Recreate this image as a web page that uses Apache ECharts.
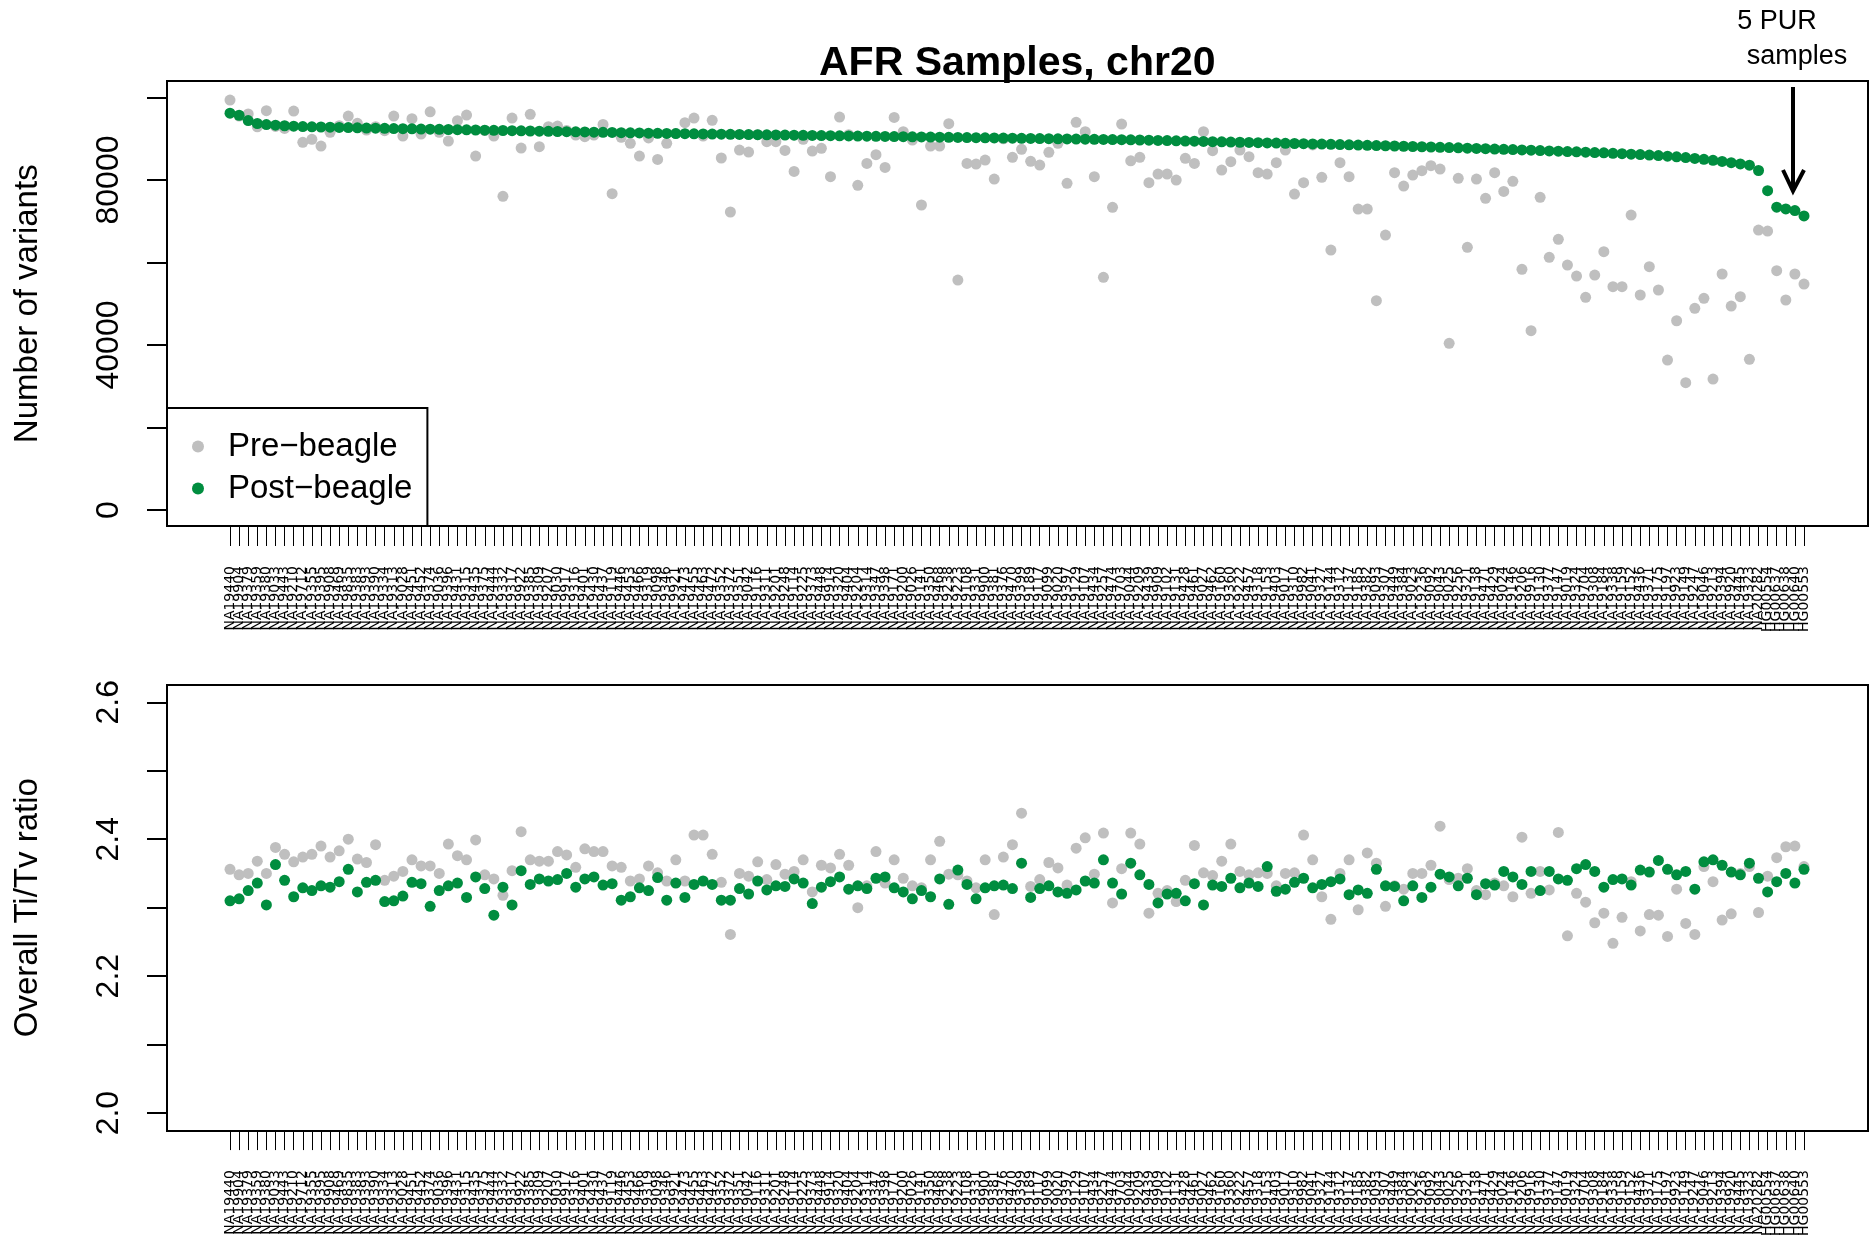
<!DOCTYPE html>
<html>
<head>
<meta charset="utf-8">
<title>AFR Samples, chr20</title>
<script src="https://cdn.jsdelivr.net/npm/echarts@6/dist/echarts.min.js"></script>
<style>
  html, body { margin: 0; padding: 0; background: #fff; }
  #chart { width: 1875px; height: 1239px; }
</style>
</head>
<body>
<div id="chart"></div>
<script>
// sample order as plotted (sorted by post-beagle count); names estimated, labels overlap in the original
var samples = [
  'NA19440','NA19904','NA19379','NA19359','NA19380','NA19033','NA19443','NA19210','NA19712','NA19355',
  'NA19395','NA19908','NA19469','NA19835','NA19383','NA19393','NA19390','NA19334','NA19313','NA19028',
  'NA19451','NA19452','NA19374','NA19036','NA19396','NA19431','NA19315','NA19435','NA19375','NA19444',
  'NA19332','NA19317','NA19922','NA19385','NA19309','NA19207','NA19030','NA19917','NA19316','NA19401',
  'NA19430','NA19437','NA19119','NA19446','NA19453','NA19466','NA19319','NA19098','NA19346','NA19921',
  'NA19473','NA19455','NA19463','NA19472','NA19352','NA19372','NA19351','NA19042','NA19116','NA19311',
  'NA19201','NA19248','NA19114','NA19225','NA19373','NA19448','NA19914','NA19320','NA19404','NA19204',
  'NA19314','NA19347','NA19398','NA19171','NA19200','NA19026','NA19141','NA19350','NA19468','NA19238',
  'NA19223','NA19108','NA19331','NA19900','NA19381','NA19376','NA19470','NA19399','NA19189','NA19117',
  'NA19099','NA19020','NA19397','NA19129','NA19107','NA19434','NA19257','NA19474','NA19703','NA19044',
  'NA19209','NA19439','NA19909','NA19102','NA19131','NA19428','NA19461','NA19027','NA19462','NA19160',
  'NA19360','NA19222','NA19457','NA19318','NA19153','NA19403','NA19017','NA19310','NA19982','NA19041',
  'NA19327','NA19144','NA19312','NA19137','NA19185','NA19382','NA19093','NA19307','NA19449','NA19384',
  'NA19023','NA19236','NA19092','NA19043','NA19025','NA19256','NA19321','NA19138','NA19471','NA19429',
  'NA19024','NA19146','NA19206','NA19916','NA19130','NA19377','NA19147','NA19019','NA19324','NA19704',
  'NA19308','NA19184','NA19338','NA19159','NA19152','NA19436','NA19371','NA19175','NA19197','NA19923',
  'NA19149','NA19247','NA19046','NA19213','NA19394','NA19920','NA19445','NA19323','NA20282','HG00554',
  'HG00637','HG00638','HG00640','HG00553'
];

// number of variants, pre-beagle
var preCount = [
  99380, 95500, 96000, 92900, 96800, 93000, 92500, 96700, 89130, 89850,
  88230, 91550, 93160, 95500, 93730, 92110, 92920, 91950, 95500, 90660,
  94860, 91150, 96530, 91550, 89450, 94380, 95750, 85810, 92000, 90660,
  76040, 95020, 87750, 95910, 88070, 92920, 93080, 92000, 90900, 90500,
  90900, 93480, 76690, 90340, 88880, 85810, 90200, 85000, 88880, 91300,
  93890, 95020, 90660, 94460, 85330, 72240, 87260, 86780, 91000, 89290,
  89290, 87180, 82090, 89850, 87020, 87670, 80800, 95260, 91000, 78700,
  84030, 86130, 83060, 95180, 91710, 89690, 73940, 88230, 88230, 93640,
  55750, 84030, 83870, 84840, 80230, 90000, 85490, 87430, 84520, 83630,
  86700, 88880, 79190, 93970, 91710, 80800, 56400, 73370, 93560, 84650,
  85490, 79350, 81450, 81450, 79990, 85250, 84030, 91710, 87100, 82420,
  84440, 87260, 85650, 81770, 81450, 84200, 87260, 76600, 79350, 88500,
  80640, 63020, 84200, 80800, 72960, 72960, 50740, 66660, 81770, 78540,
  81200, 82250, 83460, 82660, 40400, 80400, 63670, 80230, 75550, 81770,
  77240, 79670, 58340, 43460, 75790, 61250, 65620, 59390, 56720, 51560,
  56960, 62620, 54140, 54140, 71510, 52120, 58990, 53330, 36360, 45880,
  30870, 48880, 51310, 31750, 57210, 49450, 51720, 36520, 67870, 67630,
  58010, 50910, 57210, 54780
];

// number of variants, post-beagle
var postCount = [
  96200, 95700, 94400, 93700, 93450, 93300, 93150, 93050, 92950, 92900,
  92850, 92800, 92750, 92700, 92650, 92600, 92560, 92520, 92480, 92440,
  92400, 92360, 92320, 92280, 92240, 92200, 92160, 92120, 92080, 92040,
  92000, 91960, 91920, 91880, 91840, 91800, 91760, 91720, 91680, 91640,
  91600, 91560, 91520, 91480, 91440, 91400, 91360, 91320, 91280, 91250,
  91220, 91190, 91160, 91130, 91100, 91070, 91040, 91010, 90980, 90950,
  90920, 90890, 90860, 90830, 90800, 90770, 90740, 90710, 90680, 90650,
  90620, 90590, 90560, 90530, 90500, 90470, 90440, 90410, 90380, 90350,
  90320, 90290, 90260, 90230, 90200, 90170, 90140, 90110, 90080, 90050,
  90020, 89990, 89960, 89930, 89900, 89870, 89840, 89810, 89780, 89750,
  89700, 89650, 89600, 89550, 89500, 89450, 89400, 89350, 89300, 89250,
  89200, 89150, 89100, 89050, 89000, 88950, 88900, 88850, 88800, 88750,
  88700, 88650, 88600, 88540, 88480, 88420, 88360, 88300, 88240, 88180,
  88120, 88060, 88000, 87930, 87860, 87790, 87720, 87650, 87580, 87510,
  87440, 87370, 87300, 87220, 87140, 87060, 86980, 86900, 86820, 86740,
  86660, 86580, 86480, 86380, 86270, 86160, 86040, 85920, 85780, 85620,
  85440, 85240, 85020, 84780, 84500, 84200, 83900, 83600, 82300, 77400,
  73400, 73000, 72600, 71300
];

// overall Ti/Tv ratio, pre-beagle
var preTiTv = [
  2.356, 2.348, 2.350, 2.368, 2.350, 2.388, 2.378, 2.367, 2.374, 2.378,
  2.390, 2.374, 2.383, 2.400, 2.371, 2.366, 2.392, 2.340, 2.346, 2.353,
  2.370, 2.361, 2.361, 2.350, 2.393, 2.376, 2.370, 2.399, 2.348, 2.342,
  2.318, 2.354, 2.411, 2.370, 2.368, 2.368, 2.382, 2.377, 2.359, 2.386,
  2.382, 2.382, 2.361, 2.359, 2.339, 2.342, 2.361, 2.351, 2.339, 2.370,
  2.339, 2.406, 2.406, 2.378, 2.337, 2.261, 2.350, 2.346, 2.367, 2.341,
  2.363, 2.349, 2.353, 2.370, 2.323, 2.362, 2.358, 2.378, 2.362, 2.300,
  2.332, 2.382, 2.336, 2.370, 2.343, 2.332, 2.329, 2.370, 2.397, 2.349,
  2.348, 2.339, 2.329, 2.370, 2.290, 2.374, 2.392, 2.438, 2.331, 2.341,
  2.366, 2.358, 2.333, 2.387, 2.402, 2.349, 2.409, 2.307, 2.357, 2.409,
  2.393, 2.292, 2.321, 2.325, 2.309, 2.340, 2.391, 2.351, 2.347, 2.368,
  2.393, 2.353, 2.348, 2.351, 2.350, 2.332, 2.350, 2.351, 2.406, 2.370,
  2.316, 2.283, 2.350, 2.370, 2.297, 2.380, 2.365, 2.302, 2.332, 2.327,
  2.350, 2.350, 2.362, 2.419, 2.341, 2.343, 2.357, 2.325, 2.319, 2.336,
  2.332, 2.316, 2.403, 2.321, 2.353, 2.326, 2.410, 2.259, 2.321, 2.308,
  2.278, 2.292, 2.248, 2.286, 2.338, 2.266, 2.290, 2.289, 2.258, 2.327,
  2.277, 2.261, 2.360, 2.338, 2.282, 2.291, 2.350, 2.360, 2.293, 2.346,
  2.373, 2.389, 2.390, 2.360
];

// overall Ti/Tv ratio, post-beagle
var postTiTv = [
  2.310, 2.313, 2.325, 2.336, 2.304, 2.363, 2.340, 2.316, 2.329, 2.325,
  2.332, 2.330, 2.338, 2.356, 2.323, 2.337, 2.340, 2.309, 2.310, 2.317,
  2.337, 2.335, 2.302, 2.325, 2.332, 2.336, 2.315, 2.345, 2.328, 2.289,
  2.330, 2.304, 2.354, 2.334, 2.342, 2.339, 2.341, 2.350, 2.330, 2.342,
  2.345, 2.333, 2.335, 2.311, 2.316, 2.329, 2.325, 2.344, 2.311, 2.336,
  2.315, 2.334, 2.339, 2.334, 2.311, 2.311, 2.328, 2.320, 2.339, 2.326,
  2.332, 2.331, 2.342, 2.336, 2.306, 2.330, 2.338, 2.345, 2.327, 2.332,
  2.328, 2.343, 2.345, 2.329, 2.323, 2.313, 2.325, 2.316, 2.342, 2.305,
  2.355, 2.334, 2.313, 2.329, 2.332, 2.333, 2.328, 2.365, 2.315, 2.328,
  2.332, 2.323, 2.321, 2.326, 2.339, 2.336, 2.370, 2.336, 2.320, 2.365,
  2.348, 2.334, 2.307, 2.320, 2.321, 2.310, 2.335, 2.304, 2.333, 2.331,
  2.343, 2.329, 2.336, 2.331, 2.360, 2.324, 2.327, 2.337, 2.343, 2.329,
  2.334, 2.338, 2.342, 2.319, 2.326, 2.321, 2.356, 2.332, 2.331, 2.310,
  2.332, 2.315, 2.330, 2.349, 2.345, 2.332, 2.343, 2.319, 2.335, 2.333,
  2.353, 2.345, 2.334, 2.353, 2.325, 2.353, 2.342, 2.340, 2.357, 2.363,
  2.353, 2.330, 2.341, 2.342, 2.333, 2.355, 2.352, 2.369, 2.356, 2.348,
  2.353, 2.327, 2.367, 2.370, 2.362, 2.352, 2.348, 2.365, 2.343, 2.323,
  2.338, 2.350, 2.336, 2.356
];

// y tick labels that R printed (the others were dropped for space)
var countTickLabels = [0, 40000, 80000];
var titvTickLabels = ['2.0', '2.2', '2.4', '2.6'];

var preName = 'Pre\u2212beagle';
var postName = 'Post\u2212beagle';
var grayCol = '#bfbfbf';
var greenCol = '#008d3f';
var font = 'Liberation Sans, Arial, Helvetica, sans-serif';

function frameGrid(top, height) {
    return {left: 167, top: top, width: 1701, height: height, show: true,
        borderColor: '#000', borderWidth: 2, backgroundColor: 'transparent'};
}

function sampleAxis(gridIndex, offset) {
    return {
        type: 'category', gridIndex: gridIndex, data: samples, boundaryGap: false, offset: offset,
        axisLine: {show: false, onZero: false},
        axisTick: {show: true, interval: 0, length: 20, lineStyle: {color: '#000', width: 1}},
        axisLabel: {interval: 0, rotate: 90, margin: 40, fontSize: 14, color: '#000',
            fontFamily: 'DejaVu Sans, sans-serif'},
        splitLine: {show: false}
    };
}

function dots(name, data, color, axisIndex) {
    return {
        name: name, type: 'scatter', data: data, xAxisIndex: axisIndex, yAxisIndex: axisIndex,
        symbol: 'circle', symbolSize: 11, clip: false,
        itemStyle: {color: color, opacity: 1},
        emphasis: {disabled: true}
    };
}

var option = {
    animation: false,
    backgroundColor: '#fff',
    title: {
        text: 'AFR Samples, chr20', left: 819, top: 43, padding: 0,
        textStyle: {fontSize: 41, fontWeight: 'bold', color: '#000', fontFamily: font}
    },
    legend: {
        data: [preName, postName], orient: 'vertical', left: 167, top: 408,
        padding: [22, 15, 21, 25], itemGap: 9, itemWidth: 50, itemHeight: 12, icon: 'circle',
        borderColor: '#000', borderWidth: 2, backgroundColor: '#fff',
        textStyle: {fontSize: 33, color: '#000', fontFamily: font},
        selectedMode: false
    },
    grid: [
        frameGrid(81, 445),
        {left: 230, top: 97.5, width: 1574, height: 412.5},
        frameGrid(685, 446),
        {left: 230, top: 702.3, width: 1574, height: 411.7}
    ],
    xAxis: [
        {type: 'value', gridIndex: 0, show: false},
        sampleAxis(1, 16),
        {type: 'value', gridIndex: 2, show: false},
        sampleAxis(3, 17)
    ],
    yAxis: [
        {type: 'value', gridIndex: 0, show: false},
        {
            type: 'value', gridIndex: 1, min: 0, max: 100000, interval: 20000, offset: 63,
            name: 'Number of variants', nameLocation: 'middle', nameGap: 123,
            nameTextStyle: {fontSize: 33, color: '#000', fontFamily: font},
            axisLine: {show: false, onZero: false},
            axisTick: {show: true, length: 20, lineStyle: {color: '#000', width: 2}},
            axisLabel: {rotate: 90, margin: 42, fontSize: 32, color: '#000', fontFamily: font,
                formatter: function (v) { return countTickLabels.indexOf(v) >= 0 ? String(v) : ''; }},
            splitLine: {show: false}
        },
        {type: 'value', gridIndex: 2, show: false},
        {
            type: 'value', gridIndex: 3, min: 2.0, max: 2.6, interval: 0.1, offset: 63,
            name: 'Overall Ti/Tv ratio', nameLocation: 'middle', nameGap: 123,
            nameTextStyle: {fontSize: 33, color: '#000', fontFamily: font},
            axisLine: {show: false, onZero: false},
            axisTick: {show: true, length: 20, lineStyle: {color: '#000', width: 2}},
            axisLabel: {rotate: 90, margin: 42, fontSize: 32, color: '#000', fontFamily: font,
                formatter: function (v) {
                    var s = (Math.round(v * 10) / 10).toFixed(1);
                    return titvTickLabels.indexOf(s) >= 0 ? s : '';
                }},
            splitLine: {show: false}
        }
    ],
    series: [
        dots(preName, preCount, grayCol, 1),
        dots(postName, postCount, greenCol, 1),
        dots(preName, preTiTv, grayCol, 3),
        dots(postName, postTiTv, greenCol, 3)
    ],
    graphic: [
        {type: 'text', x: 1777, y: 22, style: {text: '5 PUR', fontSize: 27, fontFamily: font,
            fill: '#000', align: 'center', verticalAlign: 'middle'}},
        {type: 'text', x: 1797, y: 57, style: {text: 'samples', fontSize: 27, fontFamily: font,
            fill: '#000', align: 'center', verticalAlign: 'middle'}},
        {type: 'line', shape: {x1: 1793, y1: 87, x2: 1793, y2: 190},
            style: {stroke: '#000', lineWidth: 4}},
        {type: 'polyline', shape: {points: [[1783, 170], [1793, 191], [1804, 170]]},
            style: {stroke: '#000', lineWidth: 4, fill: null}}
    ]
};

var chart = echarts.init(document.getElementById('chart'));
chart.setOption(option);
</script>
</body>
</html>
